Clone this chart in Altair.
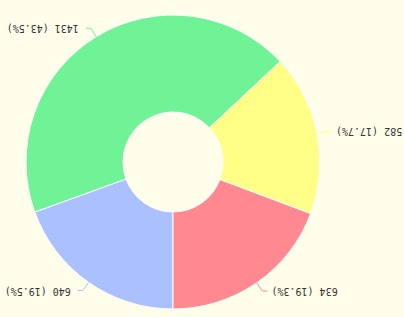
import math
import pandas as pd
import altair as alt

# ---- data ----
names = ["Blue", "Green", "Yellow", "Red"]
values = [640, 1431, 582, 634]
colors = ["#abc0ff", "#70f396", "#ffff88", "#ff8891"]

# ---- layout parameters ----
W, H = 404, 317
CX, CY = 173, 162
R_OUT, R_IN = 147, 50
START = math.pi          # chart is drawn rotated by 180 degrees
LEN1, LEN2 = 10, 5
GAP_LEFT, GAP_RIGHT = 7, 4

total = sum(values)
pcts = [round(v / total * 100, 1) for v in values]
labels = [f"{v} ({p}%)" for v, p in zip(values, pcts)]

arc_df = pd.DataFrame({"name": names, "value": values, "idx": list(range(len(values)))})

line_rows, text_rows = [], []
cum = 0
for i, (n, v, lab) in enumerate(zip(names, values, labels)):
    mid = START + 2 * math.pi * (cum + v / 2) / total
    cum += v
    s, c = math.sin(mid), math.cos(mid)
    p0 = (CX + R_OUT * s, CY - R_OUT * c)
    p1 = (CX + (R_OUT + LEN1) * s, CY - (R_OUT + LEN1) * c)
    side = 1 if s > 0 else -1
    p2 = (p1[0] + side * LEN2, p1[1])
    for k, p in enumerate([p0, p1, p2]):
        line_rows.append({"name": n, "k": k, "x": p[0], "y": p[1]})
    gap = GAP_RIGHT if side > 0 else GAP_LEFT
    text_rows.append({"name": n, "label": lab, "x": p2[0] + side * gap, "y": p2[1],
                      "side": "right" if side > 0 else "left"})

line_df = pd.DataFrame(line_rows)
text_df = pd.DataFrame(text_rows)

color_scale = alt.Scale(domain=names, range=colors)
xs = alt.Scale(domain=[0, W], range=[0, W])
ys = alt.Scale(domain=[0, H], range=[0, H])

arcs = alt.Chart(arc_df).mark_arc(
    radius=R_OUT, radius2=R_IN, stroke="#ffffff", strokeWidth=1
).encode(
    theta=alt.Theta("value:Q", stack=True, scale=alt.Scale(range=[START, START + 2 * math.pi])),
    order=alt.Order("idx:Q"),
    color=alt.Color("name:N", scale=color_scale, legend=None),
    x=alt.value(CX),
    y=alt.value(CY),
)

lines = alt.Chart(line_df).mark_line(strokeWidth=1).encode(
    x=alt.X("x:Q", scale=xs, axis=None),
    y=alt.Y("y:Q", scale=ys, axis=None),
    order=alt.Order("k:Q"),
    detail="name:N",
    color=alt.Color("name:N", scale=color_scale, legend=None),
)

text_common = dict(angle=180, baseline="middle", font="DejaVu Sans Mono",
                   fontSize=10, color="#333333")

text_left = alt.Chart(text_df).transform_filter(alt.datum.side == "left").mark_text(
    align="left", **text_common
).encode(
    x=alt.X("x:Q", scale=xs, axis=None),
    y=alt.Y("y:Q", scale=ys, axis=None),
    text="label:N",
)

text_right = alt.Chart(text_df).transform_filter(alt.datum.side == "right").mark_text(
    align="right", **text_common
).encode(
    x=alt.X("x:Q", scale=xs, axis=None),
    y=alt.Y("y:Q", scale=ys, axis=None),
    text="label:N",
)

chart = alt.layer(arcs, lines, text_left, text_right).properties(
    width=W, height=H, padding=0,
    autosize=alt.AutoSizeParams(type="none"),
    background="#fffeeb",
).configure_view(stroke=None)

chart.save("out.html", embed_options={"renderer": "svg", "actions": False})
